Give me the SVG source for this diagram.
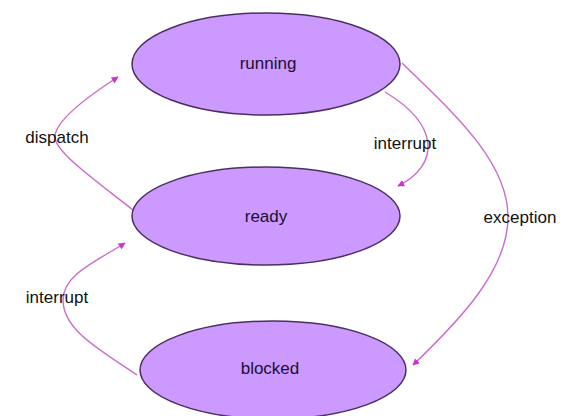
<svg xmlns="http://www.w3.org/2000/svg" width="563" height="416" viewBox="0 0 563 416">
<style>
.node ellipse{fill:#cc99ff;stroke:#4a3060;stroke-width:1.5}
.node text{font-family:"Liberation Sans",Arial,sans-serif;font-size:17px;fill:#1a1030;text-anchor:middle;dominant-baseline:central}
.edge{fill:none;stroke:#cc6acc;stroke-width:1.4}
.lbl{font-family:"Liberation Sans",Arial,sans-serif;font-size:17px;fill:#111;text-anchor:middle;dominant-baseline:central}
</style>
<defs>
<marker id="ah" viewBox="0 0 10 10" refX="9" refY="5" markerWidth="7" markerHeight="7" markerUnits="userSpaceOnUse" orient="auto">
<path d="M0,0 L10,5 L0,10 z" fill="#cc33cc"/>
</marker>
</defs>
<rect width="563" height="416" fill="#ffffff"/>
<g id="connectors">
<path class="edge" d="M133,210 C95,180 55,152 55,137 C55,120 90,95 118,77" marker-end="url(#ah)"/>
<path class="edge" d="M385,92 C440,125 440,165 398,186" marker-end="url(#ah)"/>
<path class="edge" d="M402,63 C450,110 508,160 508,217 C508,270 460,320 413,365" marker-end="url(#ah)"/>
<path class="edge" d="M137,375 C100,350 63,330 63,300 C63,275 95,262 125,243" marker-end="url(#ah)"/>
<text class="lbl" x="57" y="137">dispatch</text>
<text class="lbl" x="405" y="143">interrupt</text>
<text class="lbl" x="520" y="217">exception</text>
<text class="lbl" x="57" y="297">interrupt</text>
</g>
<g id="running" class="node"><ellipse cx="266" cy="64" rx="134" ry="51"/><text x="268" y="63">running</text></g>
<g id="ready" class="node"><ellipse cx="266" cy="216" rx="134" ry="49"/><text x="266" y="216">ready</text></g>
<g id="blocked" class="node"><ellipse cx="273" cy="370" rx="133" ry="49"/><text x="270" y="368">blocked</text></g>
</svg>
